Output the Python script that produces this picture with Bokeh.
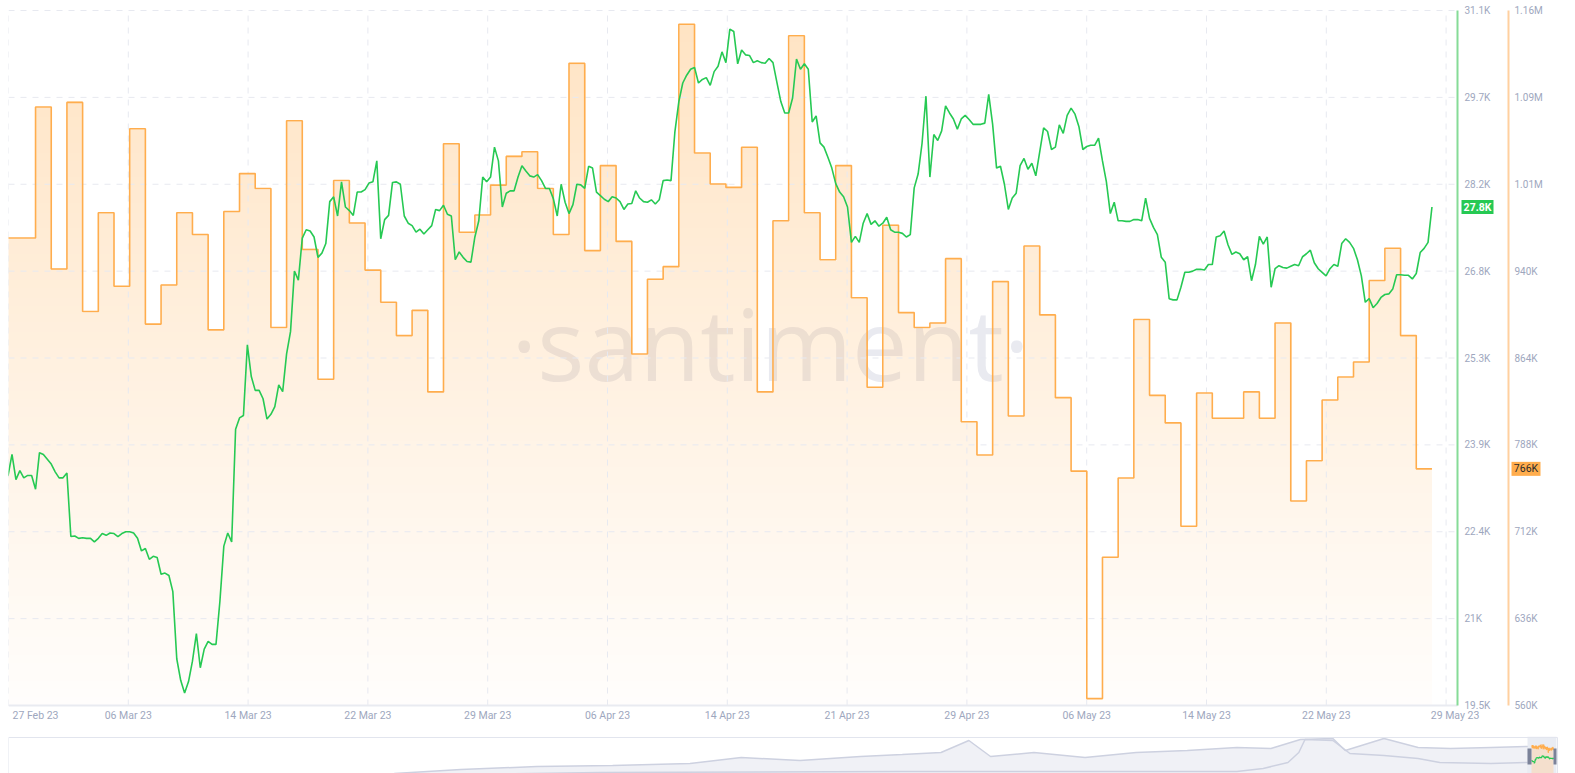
import numpy as np
import pandas as pd
from bokeh.plotting import figure
from bokeh.models import Range1d, FixedTicker
from bokeh.layouts import column
from bokeh.embed import file_html
from bokeh.resources import INLINE
from bokeh.core.properties import value

# ---------------- data ----------------
orange_start = "2023-02-27"          # daily values (thousands)
orange_k = [
    967, 967,
    1081, 940, 1085, 903, 989, 925, 1062, 892, 926, 989, 970, 887, 990, 1023, 1010, 889, 1069, 957,
    844, 1017, 980, 939, 911, 882, 904, 833, 1049, 972, 987, 1013, 1038,
    1042, 1010, 970, 1119, 956, 1030, 964, 866, 931, 942, 1153, 1041, 1014, 1011, 1046, 833, 982, 1143,
    989, 948, 1030, 915, 837, 978, 902, 889, 893, 949, 807, 778,
    929, 812, 960, 900, 828, 764, 566, 689, 758, 896, 830, 806, 716, 832, 810, 810, 833, 810, 893, 738,
    773, 826, 846, 859, 930, 958, 882, 766,
]

price_start = "2023-02-27 00:00"     # price every 6 hours (thousands USD)
price_k = [
    23.34, 23.34, 23.69, 23.27, 23.42, 23.30, 23.34, 23.34, 23.11, 23.72, 23.69, 23.61, 23.53, 23.40, 23.30, 23.30, 23.38,
    22.32, 22.33, 22.29, 22.30, 22.29, 22.29, 22.23, 22.29, 22.37, 22.34, 22.38, 22.37, 22.32, 22.37, 22.40, 22.40,
    22.38, 22.29, 22.08, 22.12, 21.94, 21.99, 21.97, 21.69, 21.71, 21.67, 21.40, 20.28, 19.92, 19.71, 19.90, 20.24,
    20.70, 20.13, 20.44, 20.57, 20.52, 20.52, 21.24, 22.16, 22.38, 22.23, 24.11, 24.30, 24.34,
    25.52, 24.99, 24.76, 24.76, 24.62, 24.28, 24.36, 24.49, 24.85, 24.74, 25.37, 25.74, 26.75, 26.60, 27.30, 27.44,
    27.42, 27.32, 26.98, 27.05, 27.21, 27.91, 27.99, 27.67, 28.24, 27.82, 27.76, 27.68, 28.07, 28.07, 28.11, 28.22,
    28.24, 28.59, 27.29, 27.61, 27.68, 28.23, 28.24, 28.20, 27.67, 27.55, 27.51, 27.40, 27.45, 27.37, 27.44, 27.51,
    27.78, 27.76, 27.85, 27.70, 27.67, 26.94, 27.07, 26.98, 26.91, 26.90, 27.32, 27.59, 28.32,
    28.24, 28.32, 28.82, 28.59, 27.82, 28.05, 28.09, 28.09, 28.32, 28.51, 28.42, 28.34, 28.32, 28.36, 28.26, 28.13,
    28.13, 27.96, 27.67, 28.20, 27.90, 27.71, 27.86, 28.20, 28.19, 28.13, 28.50, 28.47, 28.07, 28.01, 27.95, 27.91,
    27.99, 27.97, 27.91, 27.78, 27.87, 27.88, 28.09, 27.97, 27.91, 27.90, 27.94, 27.87, 27.94, 28.26, 28.27, 28.26,
    29.08, 29.58, 29.89, 30.02, 30.12, 30.15, 29.89, 29.95, 29.98, 29.85, 30.08, 30.17, 30.41, 30.23,
    30.79, 30.75, 30.21, 30.44, 30.36, 30.35, 30.23, 30.26, 30.23, 30.22, 30.30, 30.23, 29.90, 29.58, 29.39, 29.39,
    29.64, 30.29, 30.12, 30.21, 30.12, 29.24, 29.34, 28.89, 28.82, 28.65, 28.47, 28.21, 28.07, 27.99, 27.82, 27.23,
    27.33, 27.23, 27.55, 27.71, 27.53, 27.59, 27.50, 27.55, 27.65, 27.44, 27.40, 27.40, 27.38, 27.32, 27.36, 28.14,
    28.37, 28.88, 29.67, 28.32, 29.03, 28.93, 29.09, 29.51, 29.39, 29.29, 29.12, 29.29, 29.35,
    29.28, 29.20, 29.20, 29.20, 29.22, 29.70, 29.20, 28.47, 28.50, 28.20, 27.78, 27.97, 28.05, 28.51, 28.63, 28.45,
    28.55, 28.34, 28.74, 29.14, 29.08, 28.78, 28.82, 29.19, 29.05, 29.35, 29.47, 29.37, 29.16, 28.78, 28.83, 28.85,
    28.85, 28.97, 28.59, 28.24, 27.71, 27.90, 27.59, 27.59, 27.58, 27.58, 27.61, 27.61, 27.59, 27.97, 27.63, 27.48,
    27.36, 26.98, 26.90, 26.29, 26.27, 26.27, 26.48, 26.73, 26.73, 26.75, 26.78, 26.78, 26.77,
    26.86, 26.86, 27.32, 27.34, 27.42, 27.19, 27.03, 27.07, 27.04, 26.94, 26.99, 26.59, 26.86, 27.33, 27.20, 27.32,
    26.48, 26.79, 26.84, 26.81, 26.80, 26.83, 26.86, 26.84, 26.99, 27.04, 27.10, 26.89, 26.79, 26.73, 26.67, 26.79,
    26.86, 26.83, 27.21, 27.29, 27.23, 27.13, 26.94, 26.67, 26.23, 26.29, 26.14, 26.21, 26.31, 26.36, 26.37, 26.45,
    26.69, 26.69, 26.68, 26.68, 26.62, 26.71, 27.06, 27.13, 27.23, 27.82,
]

green_tick_labels = ["19.5K", "21K", "22.4K", "23.9K", "25.3K", "26.8K", "28.2K", "29.7K", "31.1K"]
orange_tick_labels = ["560K", "636K", "712K", "788K", "864K", "940K", "1.01M", "1.09M", "1.16M"]
date_tick_labels = ["27 Feb 23", "06 Mar 23", "14 Mar 23", "22 Mar 23", "29 Mar 23", "06 Apr 23",
                    "14 Apr 23", "21 Apr 23", "29 Apr 23", "06 May 23", "14 May 23", "22 May 23", "29 May 23"]

# overview strip (relative levels, position as share of full history)
nav_upper_pos = [0.0, 0.249, 0.292, 0.341, 0.390, 0.440, 0.473, 0.511, 0.550, 0.577, 0.602, 0.620, 0.634, 0.662,
                 0.695, 0.728, 0.761, 0.793, 0.815, 0.834, 0.855, 0.863, 0.888, 0.910, 0.931, 0.957, 0.981]
nav_upper_lvl = [-15, 0, 4, 7, 8, 10, 16, 13, 17, 19, 21, 33, 17, 21, 16, 21, 23, 26, 25, 34, 35, 23, 35, 26, 25, 26, 27]
nav_lower_pos = [0.0, 0.249, 0.382, 0.576, 0.705, 0.793, 0.810, 0.826, 0.833, 0.837, 0.855, 0.866, 0.888, 0.910,
                 0.924, 0.957, 0.981]
nav_lower_lvl = [-25, -2, 1, 2, 2, 2, 5, 11, 21, 34, 33, 20, 18, 15, 11, 10, 11]

# ---------------- layout constants ----------------
DAY = 86400000.0
GREEN_LO, GREEN_HI = 19.5, 31.1
OR_LO, OR_HI = 560.0, 1165.0
PX_PER_DAY = 15.69
FRAME_L, FRAME_R, FRAME_T, FRAME_B = 8, 1562, 2, 712      # drawing area on the page
PLOT_T, PLOT_B, PLOT_R = 10, 705, 1457                     # data area on the page
G_PX = (PLOT_B - PLOT_T) / (GREEN_HI - GREEN_LO)
O_PX = (PLOT_B - PLOT_T) / (OR_HI - OR_LO)

t0 = pd.Timestamp(orange_start)
t0_ms = t0.value / 1e6
x_start = t0_ms + 0.276 * DAY


def px2x(px):
    return x_start + (px - FRAME_L) / PX_PER_DAY * DAY


def py2g(py):
    return GREEN_HI - (py - PLOT_T) / G_PX


def py2o(py):
    return OR_HI - (py - PLOT_T) / O_PX


edges_ms = t0_ms + np.arange(len(orange_k) + 1) * DAY
price_ms = pd.date_range(price_start, periods=len(price_k), freq="6h").asi8 / 1e6

x_axis = px2x(PLOT_R)
x_or_axis = px2x(1508)

grid_step = 119.8 / PX_PER_DAY * DAY
grid_ticks = [x_start + k * grid_step for k in range(len(date_tick_labels))]
label_ticks = list(grid_ticks)
label_ticks[0] = grid_ticks[0] + 27 / PX_PER_DAY * DAY
label_ticks[-1] = grid_ticks[-1] + 9 / PX_PER_DAY * DAY

g_ticks = np.linspace(GREEN_LO, GREEN_HI, 9).tolist()
o_ticks = np.linspace(OR_LO, OR_HI, 9).tolist()

LABEL_COLOR = "#9ea7be"
FONT = "Roboto"
GRID_COLOR = "#e7e9f0"

p = figure(x_axis_type="datetime", frame_width=FRAME_R - FRAME_L, frame_height=FRAME_B - FRAME_T,
           x_range=Range1d(x_start, px2x(FRAME_R)), y_range=Range1d(py2g(FRAME_B), py2g(FRAME_T)),
           output_backend="svg", toolbar_location=None, y_axis_location=None,
           min_border_left=FRAME_L, min_border_top=FRAME_T, min_border_bottom=736 - FRAME_B,
           min_border_right=0)
p.extra_y_ranges = {"orange": Range1d(py2o(FRAME_B), py2o(FRAME_T))}
p.outline_line_color = None
p.xgrid.visible = False
p.ygrid.visible = False

# watermark
p.text(x=[px2x(770)], y=[py2g(342)], text=["\u00b7santiment\u00b7"], text_font=value("Open Sans"),
       text_font_size="99px", text_color="#e9eaf0", text_align="center",
       text_baseline="middle", level="image")

# gradient area under orange series
H = 350
SUB = 8
vals = np.repeat(np.array(orange_k, dtype=float), SUB)
W = vals.size
rows = (np.arange(H) + 0.5) / H
yc = OR_LO + rows * (OR_HI - OR_LO)
alpha = 0.02 + 0.32 * rows
mask = yc[:, None] <= vals[None, :]
img = np.zeros((H, W), dtype=np.uint32)
view = img.view(dtype=np.uint8).reshape((H, W, 4))
view[..., 0] = 255
view[..., 1] = 173
view[..., 2] = 77
view[..., 3] = np.where(mask, (alpha[:, None] * 255).astype(np.uint8), 0)
p.image_rgba(image=[img], x=edges_ms[0], y=OR_LO, dw=edges_ms[-1] - edges_ms[0], dh=OR_HI - OR_LO,
             y_range_name="orange", level="image")

# grid lines (limited to the data area)
p.segment(x0=x_start, y0=g_ticks, x1=x_axis, y1=g_ticks, line_color=GRID_COLOR,
          line_dash="6 6", line_width=1, level="underlay")
p.segment(x0=grid_ticks, y0=GREEN_LO, x1=grid_ticks, y1=GREEN_HI, line_color=GRID_COLOR,
          line_dash="6 6", line_width=1, level="underlay")
p.segment(x0=x_start, y0=GREEN_LO, x1=x_axis, y1=GREEN_LO, line_color="#e9ebf1",
          line_width=2, level="underlay")

# orange step line
sx = np.repeat(edges_ms, 2)[1:-1]
sy = np.repeat(np.array(orange_k, dtype=float), 2)
p.line(sx, sy, y_range_name="orange", line_color="#ffad4d", line_width=1.6)

# price line
p.line(price_ms, price_k, line_color="#26c953", line_width=1.6)

# right-hand value scales
p.segment(x0=x_axis, y0=GREEN_LO, x1=x_axis, y1=GREEN_HI, line_color="#86dc97", line_width=2)
p.text(x=x_axis, y=g_ticks, text=green_tick_labels, x_offset=7, text_align="left",
       text_baseline="middle", text_color=LABEL_COLOR, text_font=value(FONT), text_font_size="10px")
p.segment(x0=x_or_axis, y0=OR_LO, x1=x_or_axis, y1=OR_HI, y_range_name="orange",
          line_color="#ffd09f", line_width=2)
p.text(x=x_or_axis, y=o_ticks, text=orange_tick_labels, x_offset=6, y_range_name="orange",
       text_align="left", text_baseline="middle", text_color=LABEL_COLOR, text_font=value(FONT),
       text_font_size="10px")

# last value badges
p.rect(x=[px2x(1477)], y=[price_k[-1]], width=32, height=14, width_units="screen",
       height_units="screen", fill_color="#26c953", line_color=None)
p.text(x=[px2x(1477)], y=[price_k[-1]], text=[f"{price_k[-1]:.1f}K"], text_align="center",
       text_baseline="middle", text_color="white", text_font=value(FONT), text_font_size="10.5px",
       text_font_style="bold")
p.rect(x=[px2x(1525.5)], y=[orange_k[-1]], y_range_name="orange", width=29, height=14,
       width_units="screen", height_units="screen", fill_color="#ffad4d", line_color=None)
p.text(x=[px2x(1525.5)], y=[orange_k[-1]], y_range_name="orange", text=[f"{orange_k[-1]:.0f}K"],
       text_align="center", text_baseline="middle", text_color="#2b2b2b", text_font=value(FONT),
       text_font_size="10.5px")

# x axis (labels only)
xa = p.xaxis[0]
xa.ticker = FixedTicker(ticks=label_ticks)
xa.major_label_overrides = dict(zip(label_ticks, date_tick_labels))
xa.major_tick_out = 0
xa.major_tick_in = 0
xa.minor_tick_out = 0
xa.minor_tick_in = 0
xa.axis_line_color = None
xa.major_label_standoff = -4
xa.major_label_text_color = LABEL_COLOR
xa.major_label_text_font = FONT
xa.major_label_text_font_size = "10.5px"

# ---------------- overview strip ----------------
nav = figure(frame_width=FRAME_R - FRAME_L, frame_height=37,
             x_range=Range1d(0, (FRAME_R - FRAME_L) / 1549), y_range=Range1d(0, 37),
             output_backend="svg", toolbar_location=None, min_border_left=FRAME_L,
             min_border_right=0, min_border_top=0, min_border_bottom=0,
             x_axis_location=None, y_axis_location=None)
nav.outline_line_color = None
nav.xgrid.visible = False
nav.ygrid.visible = False
nav.varea(x=nav_upper_pos, y1=-30, y2=nav_upper_lvl, fill_color="#f0f1f6")
nav.line(nav_upper_pos, nav_upper_lvl, line_color="#cdd1e0", line_width=1.5)
nav.line(nav_lower_pos, nav_lower_lvl, line_color="#cdd1e0", line_width=1.5)

sel_l, sel_r = (1527 - 8) / 1549, (1556 - 8) / 1549
in_l, in_r = (1531 - 8) / 1549, (1553 - 8) / 1549
nav.quad(left=[sel_l], right=[sel_r], bottom=[0], top=[37], fill_color="#e4e7f0", fill_alpha=0.8,
         line_color=None)
mini_or_x = in_l + (sx - edges_ms[0]) / (edges_ms[-1] - edges_ms[0]) * (in_r - in_l)
mini_or_y = 21 + (sy - OR_LO) / (OR_HI - OR_LO) * 8
nav.varea(x=mini_or_x, y1=0, y2=mini_or_y, fill_color="#f6dcc3", fill_alpha=0.8)
nav.line(mini_or_x, mini_or_y, line_color="#ffad4d", line_width=1.2)
mini_gr_x = in_l + (price_ms - edges_ms[0]) / (edges_ms[-1] - edges_ms[0]) * (in_r - in_l)
mini_gr_y = 10 + (np.array(price_k) - GREEN_LO) / (GREEN_HI - GREEN_LO) * 8
nav.line(mini_gr_x, mini_gr_y, line_color="#26c953", line_width=1.2)
nav.quad(left=[sel_l, in_r], right=[in_l, sel_r], bottom=[9, 9], top=[25, 25],
         fill_color="#7b8299", line_color=None)
nav.quad(left=[0], right=[1], bottom=[-5], top=[36], fill_color=None, line_color="#e2e5ee",
         line_width=1)

layout = column(p, nav, spacing=0)
open("out.html", "w").write(file_html(layout, INLINE))
